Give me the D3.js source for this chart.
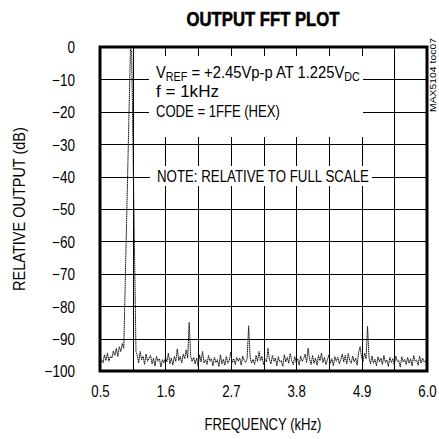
<!DOCTYPE html>
<html>
<head>
<meta charset="utf-8">
<script src="https://cdn.jsdelivr.net/npm/d3@7"></script>
<style>
  html, body { margin: 0; padding: 0; background: #fff; }
  svg { display: block; }
  text { font-family: "Liberation Sans", Arial, Helvetica, sans-serif; fill: #000; }
</style>
</head>
<body>
<svg id="chart" width="439" height="439"></svg>
<script>
// Axis ticks
const xTickLabels = [0.5, 1.6, 2.7, 3.8, 4.9, 6.0];
const xGridFreqs = [1.05, 1.6, 2.15, 2.7, 3.25, 3.8, 4.35, 4.9, 5.45];
const yTickLabels = [0, -10, -20, -30, -40, -50, -60, -70, -80, -90, -100];

// FFT bins below the tone (kHz start, bin width kHz, level dB)
const lowBandStart = 0.5;
const binStep = 0.025;
const lowBand = [-98, -96.5, -97.5, -95, -96.8, -94.5, -97, -95.5, -96, -93.8, -95.2, -93, -95.5, -92.5, -94, -91.5];

// The 1 kHz tone: [kHz, dB]
const tone = [[0.9, -93], [1.012, -0.6], [1.032, -1.2], [1.105, -94]];

// FFT bins above the tone, 1.125 kHz to 6.0 kHz
const highBandStart = 1.125;
const highBand = [
  -95, -97.5, -94, -96.5, -95.5, -98, -94.8, -97, -96, -95.2,
  -97.8, -96, -98.5, -95.5, -97, -96.2, -98.8, -96.5, -97.5, -95.8,
  -97.2, -94.5, -97.8, -96, -98.2, -95.5, -97, -93.2, -96.8, -95.5,
  -97.5, -94.8, -96.2, -93.5, -96, -85, -95.5, -97, -95.8, -97.8,
  -96, -98.5, -95, -97.2, -94, -97.5, -96.5, -98, -95.2, -97,
  -96.2, -98.4, -95.8, -97.4, -96.5, -98.6, -95, -97.8, -96.4, -98.2,
  -95.5, -97.6, -96.8, -94.2, -97.4, -96.2, -98, -95.8, -97, -96,
  -98.2, -95.4, -96.8, -97.4, -96, -86, -95.8, -97.6, -96.4, -98,
  -95.2, -97, -94, -96.8, -95.5, -98, -96.4, -97.2, -93, -96.5,
  -97.8, -95.2, -97, -96, -98.4, -95.6, -97.2, -96.8, -98.6, -95,
  -97.2, -95.8, -97.6, -94.6, -96.8, -98, -95.6, -97.4, -96.2, -98.2,
  -95.4, -97, -96.2, -94.8, -97.4, -93, -96.4, -98, -95.2, -97.6,
  -96, -98.2, -95.2, -96.8, -94.5, -97.4, -95.8, -98, -96.6, -95,
  -97.6, -96.2, -98.4, -95.6, -97, -95.8, -97.8, -96.4, -94.8, -97.2,
  -95.2, -97.8, -94.6, -96.8, -97.6, -95.4, -97.2, -96, -98.2, -94.2,
  -92.5, -95.8, -97, -94.5, -96.2, -86.2, -96, -97.8, -95.4, -97.6,
  -96.4, -98.4, -95.6, -97.2, -96, -98, -95.2, -97.4, -96.6, -98.6,
  -95.8, -97.4, -96.2, -98.2, -95.4, -97, -96.8, -98.8, -95.6, -97.2,
  -96.4, -98, -95.8, -97.6, -96.2, -98.4, -95.2, -97, -96.6, -98.2,
  -95.4, -97.6, -96, -97.2, -96.8, -98
];

const spectrum = []
  .concat(lowBand.map((v, i) => [lowBandStart + i * binStep, v]))
  .concat(tone)
  .concat(highBand.map((v, i) => [highBandStart + i * binStep, v]));

const svg = d3.select("#chart");
const plot = { left: 100, right: 427, top: 47, bottom: 371 };

const x = d3.scaleLinear().domain([0.5, 6.0]).range([plot.left, plot.right]);
const y = d3.scaleLinear().domain([-100, 0]).range([plot.bottom, plot.top]);

// Grid
const grid = svg.append("g").attr("class", "grid");
grid.append("g")
  .attr("transform", `translate(0,${plot.bottom})`)
  .call(d3.axisBottom(x).tickValues(xGridFreqs).tickSize(-(plot.bottom - plot.top)).tickFormat(""))
  .call(g => g.select(".domain").remove());
grid.append("g")
  .attr("transform", `translate(${plot.left},0)`)
  .call(d3.axisLeft(y).tickValues(yTickLabels.slice(1, -1)).tickSize(-(plot.right - plot.left)).tickFormat(""))
  .call(g => g.select(".domain").remove());
grid.selectAll("line").attr("stroke", "#000").attr("stroke-width", 1).attr("shape-rendering", "crispEdges");

// Blank panels behind the annotations
svg.append("rect").attr("x", 149).attr("y", 56).attr("width", 214).attr("height", 81).attr("fill", "#fff");
svg.append("rect").attr("x", 150).attr("y", 166).attr("width", 222).attr("height", 20).attr("fill", "#fff");

// Spectrum trace
svg.append("clipPath").attr("id", "plotClip")
  .append("rect").attr("x", plot.left).attr("y", plot.top)
  .attr("width", plot.right - plot.left).attr("height", plot.bottom - plot.top);

const line = d3.line().x(d => x(d[0])).y(d => y(d[1]));
svg.append("path")
  .datum(spectrum)
  .attr("clip-path", "url(#plotClip)")
  .attr("d", line)
  .attr("fill", "none")
  .attr("stroke", "#111")
  .attr("stroke-width", 1)
  .attr("stroke-dasharray", "1.6,0.5")
  .attr("stroke-linejoin", "round");

// Frame
svg.append("rect")
  .attr("x", plot.left).attr("y", plot.top)
  .attr("width", plot.right - plot.left).attr("height", plot.bottom - plot.top)
  .attr("fill", "none").attr("stroke", "#000").attr("stroke-width", 3);

// Condensed text helper: squeezes a label to a given width
function squeeze(textSel, width) {
  const natural = textSel.node().getComputedTextLength();
  textSel.attr("transform", `scale(${width / natural},1)`);
  return textSel;
}
function label(parent, px, py, str, opts) {
  const o = Object.assign({ size: 16, anchor: "start", weight: "normal", sx: 0.82, rotate: 0 }, opts);
  const g = parent.append("g").attr("transform", `translate(${px},${py}) rotate(${o.rotate})`);
  const t = g.append("text")
    .attr("font-size", o.size)
    .attr("font-weight", o.weight)
    .attr("text-anchor", o.anchor)
    .text(str);
  if (o.width) {
    squeeze(t, o.width);
  } else {
    t.attr("transform", `scale(${o.sx},1)`);
  }
  return t;
}

// Title
label(svg, 263, 26, "OUTPUT FFT PLOT", { size: 21, weight: "bold", anchor: "middle", width: 153 })
  .attr("stroke", "#000").attr("stroke-width", 0.6);

// Y tick labels
const yAxis = svg.append("g")
  .attr("transform", `translate(${plot.left - 25},0)`)
  .call(d3.axisLeft(y).tickValues(yTickLabels).tickSize(0).tickPadding(0).tickFormat(d3.format("d")));
yAxis.select(".domain").remove();
yAxis.selectAll("text")
  .attr("font-family", "Liberation Sans, Arial, sans-serif")
  .attr("font-size", 16.5)
  .attr("fill", "#000")
  .attr("dy", "0.36em")
  .attr("x", 0)
  .attr("transform", "scale(0.82,1)");

// X tick labels
const xAxis = svg.append("g")
  .attr("transform", `translate(0,${plot.bottom + 10})`)
  .call(d3.axisBottom(x).tickValues(xTickLabels).tickSize(0).tickPadding(0).tickFormat(d3.format(".1f")));
xAxis.select(".domain").remove();
xAxis.selectAll(".tick text")
  .attr("font-family", "Liberation Sans, Arial, sans-serif")
  .attr("font-size", 16.5)
  .attr("fill", "#000")
  .attr("dy", "1em")
  .attr("y", 0)
  .attr("transform", "scale(0.8,1)");

// Axis titles
label(svg, 263, 430, "FREQUENCY (kHz)", { size: 16.5, anchor: "middle", width: 117 });
label(svg, 25, 209, "RELATIVE OUTPUT (dB)", { size: 16.5, anchor: "middle", rotate: -90, width: 164 });

// Side code
label(svg, 436, 112, "MAX5104 toc07", { size: 9, rotate: -90, width: 74 }).attr("fill", "#444");

// Test-condition notes
const notes = svg.append("g");
const vref = notes.append("g").attr("transform", "translate(156,77.5)").append("text").attr("font-size", 16.5);
vref.append("tspan").text("V");
vref.append("tspan").attr("font-size", 12).attr("dy", 3).text("REF");
vref.append("tspan").attr("dy", -3).text(" = +2.45Vp-p AT 1.225V");
vref.append("tspan").attr("font-size", 12).attr("dy", 3).text("DC");
squeeze(vref, 204);
label(notes, 156, 97, "f = 1kHz", { size: 16.5, width: 63 });
label(notes, 156, 116.5, "CODE = 1FFE (HEX)", { size: 16.5, width: 124 });
label(notes, 157, 182, "NOTE: RELATIVE TO FULL SCALE", { size: 16.5, width: 212 });
</script>
</body>
</html>
